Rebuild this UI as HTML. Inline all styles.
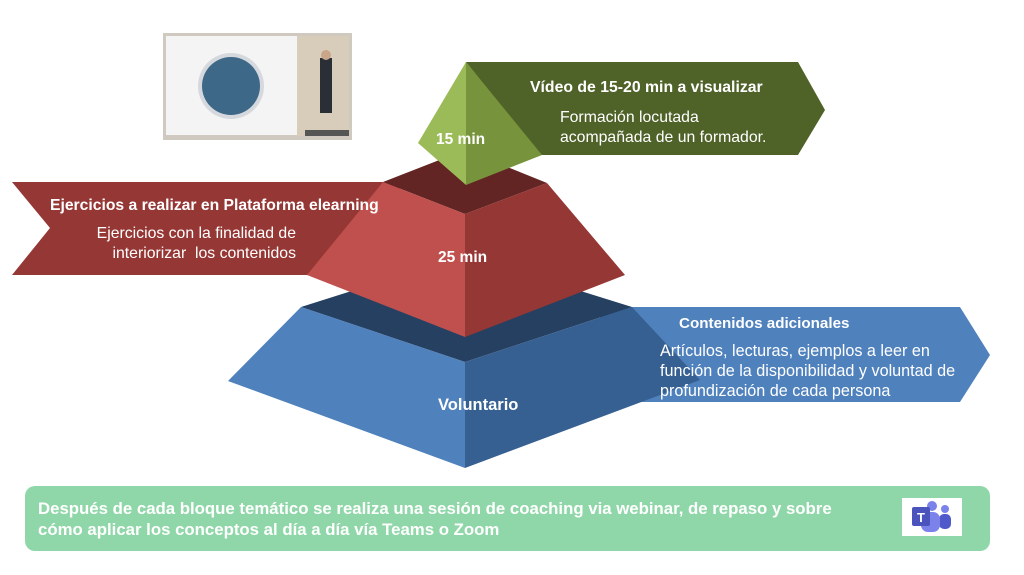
<!DOCTYPE html>
<html><head><meta charset="utf-8"><style>
html,body{margin:0;padding:0;background:#fff;width:1024px;height:575px;overflow:hidden;font-family:"Liberation Sans","DejaVu Sans",sans-serif}
svg{position:absolute;left:0;top:0}
.t{position:absolute;color:#fff;white-space:nowrap}
.b{font-weight:bold}
</style></head><body>
<svg width="1024" height="575" viewBox="0 0 1024 575">
  <polygon points="466,62 798,62 825,110 798,155 540,155" fill="#4f6228"/>
  <polygon points="12,182 400,182 400,275 12,275 50,228" fill="#953735"/>
  <polygon points="600,307 960,307 990,355 960,402 600,402" fill="#4f81bd"/>
  <polygon points="301,307 465,255 632,307 465,362" fill="#254061"/>
  <polygon points="301,307 465,362 465,468 228,381" fill="#4f81bd"/>
  <polygon points="465,362 632,307 700,380 465,468" fill="#376092"/>
  <polygon points="383,182 465,150 547,183 465,214" fill="#632523"/>
  <polygon points="383,182 465,214 465,337 307,275" fill="#c0504d"/>
  <polygon points="465,214 547,183 625,275 465,337" fill="#953735"/>
  <polygon points="466,62 418,143 466,185" fill="#9bbb59"/>
  <polygon points="466,62 542,155 466,185" fill="#77933c"/>
  <rect x="25" y="486" width="965" height="65" rx="10" fill="#8fd7a8"/>
  <rect x="902" y="498" width="60" height="38" fill="#fff"/>
  <circle cx="945" cy="509" r="4" fill="#7b83eb"/>
  <rect x="939" y="514" width="12" height="15" rx="5" fill="#5059c9"/>
  <circle cx="932" cy="506" r="5" fill="#7b83eb"/>
  <rect x="921" y="512" width="19" height="20" rx="7" fill="#7b83eb"/>
  <rect x="912" y="507" width="18" height="19" rx="2" fill="#4b53bc"/>
  <text x="921" y="522" fill="#fff" font-family="Liberation Sans" font-weight="bold" font-size="13" text-anchor="middle">T</text>
  <rect x="163" y="33" width="189" height="107" fill="#cfc9bf"/>
  <rect x="166" y="36" width="131" height="99" fill="#f4f4f4"/>
  <rect x="297" y="36" width="52" height="100" fill="#d8cdbb"/>
  <circle cx="231" cy="86" r="33" fill="#d5d9de"/>
  <circle cx="231" cy="86" r="29" fill="#3d6888"/>
  <rect x="320" y="58" width="12" height="55" fill="#2a2e35"/>
  <circle cx="326" cy="55" r="5" fill="#c9a58a"/>
  <rect x="305" y="130" width="44" height="6" fill="#555"/>
</svg>
<div class="t b" style="left:530px;top:79px;font-size:15.8px">Vídeo de 15-20 min a visualizar</div>
<div class="t" style="left:560px;top:108px;font-size:15.8px;line-height:20px">Formación locutada<br>acompañada de un formador.</div>
<div class="t b" style="left:436px;top:131px;font-size:15.5px">15 min</div>
<div class="t b" style="left:50px;top:197px;font-size:15.7px">Ejercicios a realizar en Plataforma elearning</div>
<div class="t" style="left:80px;top:224px;font-size:15.8px;line-height:20px;text-align:right;width:216px">Ejercicios con la finalidad de<br>interiorizar&nbsp; los contenidos</div>
<div class="t b" style="left:438px;top:249px;font-size:15.5px">25 min</div>
<div class="t b" style="left:679px;top:315px;font-size:15.2px">Contenidos adicionales</div>
<div class="t" style="left:660px;top:341px;font-size:16.2px;line-height:20px">Artículos, lecturas, ejemplos a leer en<br>función de la disponibilidad y voluntad de<br>profundización de cada persona</div>
<div class="t b" style="left:438px;top:396px;font-size:16.5px">Voluntario</div>
<div class="t b" style="left:38px;top:498px;font-size:16.8px;line-height:21px">Después de cada bloque temático se realiza una sesión de coaching via webinar, de repaso y sobre<br>cómo aplicar los conceptos al día a día vía Teams o Zoom</div>
</body></html>
